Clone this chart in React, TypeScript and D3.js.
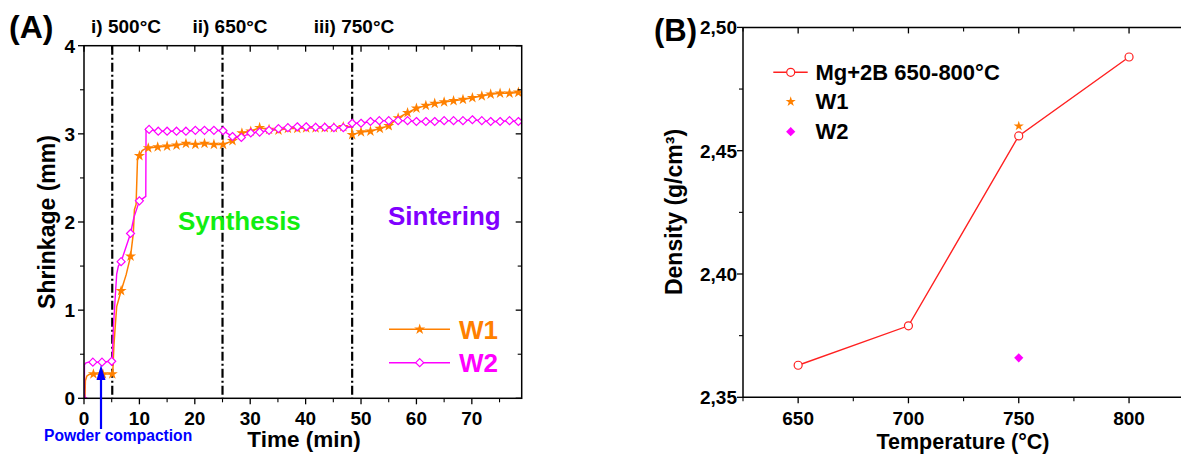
import React from 'react';
import * as d3 from 'd3';

// ---------- Panel A data ----------
const timeTicks = [0, 10, 20, 30, 40, 50, 60, 70];
const timeMinorTicks = [5, 15, 25, 35, 45, 55, 65, 75];
const shrinkTicks = [0, 1, 2, 3, 4];
const shrinkMinorTicks = [0.5, 1.5, 2.5, 3.5];
const stageTimes = [5.1, 25.0, 48.4];
const stageLabels = ['i) 500°C', 'ii) 650°C', 'iii) 750°C'];

const w1Line: [number, number][] = [
  [0.18, 0], [0.25, 0.2], [0.5, 0.25], [0.9, 0.27], [1.7, 0.275], [3.4, 0.275], [5.1, 0.275],
  [5.2, 0.3], [5.4, 0.6], [5.6, 0.78], [5.9, 1.04], [6.7, 1.22], [7.6, 1.4], [8.4, 1.61],
  [8.9, 1.87], [9.1, 2.14], [9.4, 2.2], [9.65, 2.7], [10.0, 2.75], [10.5, 2.81], [11.0, 2.83],
  [11.6, 2.84], [13.3, 2.85], [15.0, 2.86], [16.7, 2.87], [18.4, 2.89], [20.1, 2.88], [21.75, 2.89],
  [23.45, 2.88], [25.1, 2.88], [26.8, 2.92], [28.5, 3.01], [30.1, 3.03], [31.7, 3.07], [33.4, 3.05],
  [35.1, 3.04], [36.8, 3.06], [38.5, 3.06], [40.1, 3.065], [41.8, 3.065], [43.45, 3.07], [45.1, 3.07],
  [46.8, 3.08], [48.3, 3.08], [48.4, 2.99], [50.0, 3.02], [51.7, 3.03], [53.4, 3.06], [55.0, 3.09],
  [56.7, 3.18], [58.4, 3.24], [60.0, 3.29], [61.7, 3.32], [63.3, 3.345], [65.0, 3.36], [66.7, 3.375],
  [68.4, 3.39], [70.1, 3.41], [71.8, 3.43], [73.4, 3.45], [75.1, 3.46], [76.8, 3.46], [78.4, 3.47],
  [79.0, 3.47],
];
const w1Markers: [number, number][] = [
  [1.7, 0.275], [3.4, 0.275], [5.1, 0.275], [6.7, 1.22], [8.4, 1.61], [10.0, 2.75], [11.6, 2.84],
  [13.3, 2.85], [15.0, 2.86], [16.7, 2.87], [18.4, 2.89], [20.1, 2.88], [21.75, 2.89], [23.45, 2.88],
  [25.1, 2.88], [26.8, 2.92], [28.5, 3.01], [30.1, 3.03], [31.7, 3.07], [33.4, 3.05], [35.1, 3.04],
  [36.8, 3.06], [38.5, 3.06], [40.1, 3.065], [41.8, 3.065], [43.45, 3.07], [45.1, 3.07], [46.8, 3.08],
  [48.4, 2.99], [50.0, 3.02], [51.7, 3.03], [53.4, 3.06], [55.0, 3.09], [56.7, 3.18], [58.4, 3.24],
  [60.0, 3.29], [61.7, 3.32], [63.3, 3.345], [65.0, 3.36], [66.7, 3.375], [68.4, 3.39], [70.1, 3.41],
  [71.8, 3.43], [73.4, 3.45], [75.1, 3.46], [76.8, 3.46], [78.4, 3.47],
];

const w2Line: [number, number][] = [
  [0.6, 0], [0.2, 0.01], [0.08, 0.05], [0.08, 0.38], [0.3, 0.4], [0.8, 0.41], [1.6, 0.41],
  [3.25, 0.41], [5.0, 0.42], [5.1, 0.45], [5.3, 0.8], [5.6, 1.11], [5.9, 1.41], [6.2, 1.5],
  [6.7, 1.55], [8.4, 1.87], [9.0, 2.05], [10.0, 2.24], [10.9, 2.28], [11.15, 2.29], [11.2, 3.06],
  [11.75, 3.05], [13.4, 3.03], [15.0, 3.03], [16.7, 3.03], [18.4, 3.03], [20.1, 3.04], [21.75, 3.04],
  [23.45, 3.04], [25.1, 3.035], [26.8, 2.97], [28.4, 2.96], [30.1, 3.01], [31.7, 3.02], [33.4, 3.04],
  [35.1, 3.06], [36.8, 3.07], [38.5, 3.08], [40.1, 3.08], [41.8, 3.075], [43.45, 3.075], [45.1, 3.07],
  [46.8, 3.07], [48.3, 3.08], [48.4, 3.12], [50.0, 3.12], [51.7, 3.14], [53.3, 3.15], [55.0, 3.15],
  [56.7, 3.15], [58.4, 3.15], [60.0, 3.14], [61.7, 3.14], [63.3, 3.14], [65.0, 3.15], [66.7, 3.15],
  [68.4, 3.15], [70.1, 3.16], [71.8, 3.15], [73.4, 3.14], [75.1, 3.14], [76.8, 3.15], [78.4, 3.14],
  [79.0, 3.14],
];
const w2Markers: [number, number][] = [
  [1.6, 0.41], [3.25, 0.41], [5.0, 0.42], [6.7, 1.55], [8.4, 1.87], [10.0, 2.24], [11.75, 3.05],
  [13.4, 3.03], [15.0, 3.03], [16.7, 3.03], [18.4, 3.03], [20.1, 3.04], [21.75, 3.04], [23.45, 3.04],
  [25.1, 3.035], [26.8, 2.97], [28.4, 2.96], [30.1, 3.01], [31.7, 3.02], [33.4, 3.04], [35.1, 3.06],
  [36.8, 3.07], [38.5, 3.08], [40.1, 3.08], [41.8, 3.075], [43.45, 3.075], [45.1, 3.07], [46.8, 3.07],
  [48.4, 3.12], [50.0, 3.12], [51.7, 3.14], [53.3, 3.15], [55.0, 3.15], [56.7, 3.15], [58.4, 3.15],
  [60.0, 3.14], [61.7, 3.14], [63.3, 3.14], [65.0, 3.15], [66.7, 3.15], [68.4, 3.15], [70.1, 3.16],
  [71.8, 3.15], [73.4, 3.14], [75.1, 3.14], [76.8, 3.15], [78.4, 3.14],
];

// ---------- Panel B data ----------
const tempTicks = [650, 700, 750, 800];
const tempMinorTicks = [625, 675, 725, 775, 825];
const densityTicks = [2.35, 2.40, 2.45, 2.50];
const densityMinorTicks = [2.375, 2.425, 2.475];
const temperatures = [650, 700, 750, 800];
const densities = [2.363, 2.379, 2.456, 2.488];
const w1Point: [number, number] = [750, 2.46];
const w2Point: [number, number] = [750, 2.366];

const FONT = "'Liberation Sans', Arial, Helvetica, sans-serif";
const ORANGE = '#ff8000';
const MAGENTA = '#ff00ff';
const RED = '#ff2020';

const starPath = d3.symbol().type(d3.symbolStar).size(38)()!;
const starPathSmall = d3.symbol().type(d3.symbolStar).size(32)()!;
const diamond = (s: number) => `M0,${-s}L${s},0L0,${s}L${-s},0Z`;

export default function App() {
  // Panel A scales
  const xA = d3.scaleLinear().domain([0, 79]).range([84, 521.7]);
  const yA = d3.scaleLinear().domain([0, 4]).range([398.3, 45.7]);
  const [aL, aR] = xA.range();
  const [aB, aT] = yA.range();
  const lineA = d3.line<[number, number]>().x(d => xA(d[0])).y(d => yA(d[1]));

  // Panel B scales
  const xB = d3.scaleLinear().domain([625, 825]).range([743, 1184.2]);
  const yB = d3.scaleLinear().domain([2.35, 2.5]).range([397.3, 27.4]);
  const [bL, bR] = xB.range();
  const [bB, bT] = yB.range();
  const lineB = d3.line<number>().x((_, i) => xB(temperatures[i])).y(d => yB(d));
  const fmtB = (v: number) => d3.format('.2f')(v).replace('.', ',');

  const stageLabelCenters = [126, 230, 354];

  return (
    <svg width={1181} height={456} style={{ position: 'absolute', left: 0, top: 0, background: '#fff' }}
      fontFamily={FONT} fontWeight="bold">
      <defs>
        <clipPath id="clipA"><rect x={aL} y={aT} width={aR - aL} height={aB - aT} /></clipPath>
      </defs>

      {/* ================= Panel A ================= */}
      <text x={9} y={38} fontSize={32}>(A)</text>
      {stageLabels.map((s, i) => (
        <text key={s} x={stageLabelCenters[i]} y={33} fontSize={19} textAnchor="middle">{s}</text>
      ))}

      {/* stage lines */}
      {stageTimes.map(t => (
        <line key={t} x1={xA(t)} x2={xA(t)} y1={aT} y2={aB} stroke="#000" strokeWidth={2.2}
          strokeDasharray="9,3,2,3" />
      ))}

      {/* series */}
      <g clipPath="url(#clipA)">
        <path d={lineA(w1Line)!} fill="none" stroke={ORANGE} strokeWidth={1.5} />
        <path d={lineA(w2Line)!} fill="none" stroke={MAGENTA} strokeWidth={1.4} />
        {w1Markers.map((d, i) => (
          <path key={'s' + i} d={starPath} transform={`translate(${xA(d[0])},${yA(d[1])})`} fill={ORANGE} />
        ))}
        {w2Markers.map((d, i) => (
          <path key={'d' + i} d={diamond(4)} transform={`translate(${xA(d[0])},${yA(d[1])})`}
            fill="#fff" stroke={MAGENTA} strokeWidth={1.2} />
        ))}
      </g>

      {/* frame + ticks */}
      <rect x={aL} y={aT} width={aR - aL} height={aB - aT} fill="none" stroke="#000" strokeWidth={1.5} />
      {timeTicks.map(t => (
        <g key={'xt' + t}>
          <line x1={xA(t)} x2={xA(t)} y1={aB} y2={aB + 6} stroke="#000" strokeWidth={1.3} />
          <line x1={xA(t)} x2={xA(t)} y1={aT} y2={aT + 6} stroke="#000" strokeWidth={1.3} />
          <text x={xA(t)} y={425} fontSize={19} textAnchor="middle">{t}</text>
        </g>
      ))}
      {timeMinorTicks.map(t => (
        <g key={'xm' + t}>
          <line x1={xA(t)} x2={xA(t)} y1={aB} y2={aB + 4} stroke="#000" strokeWidth={1.1} />
          <line x1={xA(t)} x2={xA(t)} y1={aT} y2={aT + 4} stroke="#000" strokeWidth={1.1} />
        </g>
      ))}
      {shrinkTicks.map(v => (
        <g key={'yt' + v}>
          <line x1={aL - 6} x2={aL} y1={yA(v)} y2={yA(v)} stroke="#000" strokeWidth={1.3} />
          <line x1={aR - 6} x2={aR} y1={yA(v)} y2={yA(v)} stroke="#000" strokeWidth={1.3} />
          <text x={75} y={yA(v)} dy="0.36em" fontSize={19} textAnchor="end">{v}</text>
        </g>
      ))}
      {shrinkMinorTicks.map(v => (
        <g key={'ym' + v}>
          <line x1={aL - 4} x2={aL} y1={yA(v)} y2={yA(v)} stroke="#000" strokeWidth={1.1} />
          <line x1={aR - 4} x2={aR} y1={yA(v)} y2={yA(v)} stroke="#000" strokeWidth={1.1} />
        </g>
      ))}

      <text x={304} y={447} fontSize={22.5} textAnchor="middle">Time (min)</text>
      <text transform="translate(55,222) rotate(-90)" fontSize={23} textAnchor="middle">Shrinkage (mm)</text>

      <text x={178} y={230} fontSize={26} fill="#11ee11">Synthesis</text>
      <text x={388} y={224.5} fontSize={26} fill="#8000ff">Sintering</text>

      {/* Powder compaction arrow */}
      <line x1={101} x2={101} y1={429} y2={378} stroke="#0000ff" strokeWidth={2.2} />
      <path d={`M101,365L105.5,380L96.5,380Z`} fill="#0000ff" />
      <text x={44} y={441} fontSize={15.6} fill="#0000ff">Powder compaction</text>

      {/* legend A */}
      <line x1={389} x2={450} y1={329.3} y2={329.3} stroke={ORANGE} strokeWidth={1.4} />
      <path d={starPath} transform="translate(419.7,329.3)" fill={ORANGE} />
      <text x={459} y={338.5} fontSize={26} fill={ORANGE}>W1</text>
      <line x1={389} x2={450} y1={362.7} y2={362.7} stroke={MAGENTA} strokeWidth={1.4} />
      <path d={diamond(4)} transform="translate(419.7,362.7)" fill="#fff" stroke={MAGENTA} strokeWidth={1.2} />
      <text x={459} y={372} fontSize={26} fill={MAGENTA}>W2</text>

      {/* ================= Panel B ================= */}
      <text x={654} y={41} fontSize={31}>(B)</text>

      <path d={lineB(densities)!} fill="none" stroke={RED} strokeWidth={1.4} />
      {densities.map((d, i) => (
        <circle key={'c' + i} cx={xB(temperatures[i])} cy={yB(d)} r={4} fill="#fff" stroke={RED} strokeWidth={1.2} />
      ))}
      <path d={starPathSmall} transform={`translate(${xB(w1Point[0])},${yB(w1Point[1])})`} fill={ORANGE} />
      <path d={diamond(4.6)} transform={`translate(${xB(w2Point[0])},${yB(w2Point[1])})`} fill={MAGENTA} />

      {/* frame B */}
      <line x1={bL} x2={bR} y1={bB} y2={bB} stroke="#000" strokeWidth={1.5} />
      <line x1={bL} x2={bR} y1={bT} y2={bT} stroke="#000" strokeWidth={1.5} />
      <line x1={bL} x2={bL} y1={bT} y2={bB} stroke="#000" strokeWidth={1.5} />
      <line x1={bR} x2={bR} y1={bT} y2={bB} stroke="#000" strokeWidth={1.5} />
      {tempTicks.map(t => (
        <g key={'bxt' + t}>
          <line x1={xB(t)} x2={xB(t)} y1={bB} y2={bB + 6} stroke="#000" strokeWidth={1.3} />
          <line x1={xB(t)} x2={xB(t)} y1={bT} y2={bT + 6} stroke="#000" strokeWidth={1.3} />
          <text x={xB(t)} y={425} fontSize={19} textAnchor="middle">{t}</text>
        </g>
      ))}
      {tempMinorTicks.map(t => (
        <g key={'bxm' + t}>
          <line x1={xB(t)} x2={xB(t)} y1={bB} y2={bB + 4} stroke="#000" strokeWidth={1.1} />
          <line x1={xB(t)} x2={xB(t)} y1={bT} y2={bT + 4} stroke="#000" strokeWidth={1.1} />
        </g>
      ))}
      {densityTicks.map(v => (
        <g key={'byt' + v}>
          <line x1={bL - 6} x2={bL} y1={yB(v)} y2={yB(v)} stroke="#000" strokeWidth={1.3} />
          <text x={737} y={yB(v)} dy="0.36em" fontSize={19} textAnchor="end">{fmtB(v)}</text>
        </g>
      ))}
      {densityMinorTicks.map(v => (
        <line key={'bym' + v} x1={bL - 4} x2={bL} y1={yB(v)} y2={yB(v)} stroke="#000" strokeWidth={1.1} />
      ))}

      <text x={963} y={449} fontSize={21.5} textAnchor="middle">Temperature (°C)</text>
      <text transform="translate(682,212) rotate(-90)" fontSize={23} textAnchor="middle">Density (g/cm³)</text>

      {/* legend B */}
      <line x1={773.3} x2={807.7} y1={72.3} y2={72.3} stroke={RED} strokeWidth={1.4} />
      <circle cx={790.7} cy={72.3} r={4} fill="#fff" stroke={RED} strokeWidth={1.2} />
      <text x={815.5} y={79.5} fontSize={22}>Mg+2B 650-800°C</text>
      <path d={starPathSmall} transform="translate(790.7,101.7)" fill={ORANGE} />
      <text x={815.5} y={108.8} fontSize={22}>W1</text>
      <path d={diamond(4.6)} transform="translate(790.7,131.7)" fill={MAGENTA} />
      <text x={815.5} y={138.8} fontSize={22}>W2</text>
    </svg>
  );
}
